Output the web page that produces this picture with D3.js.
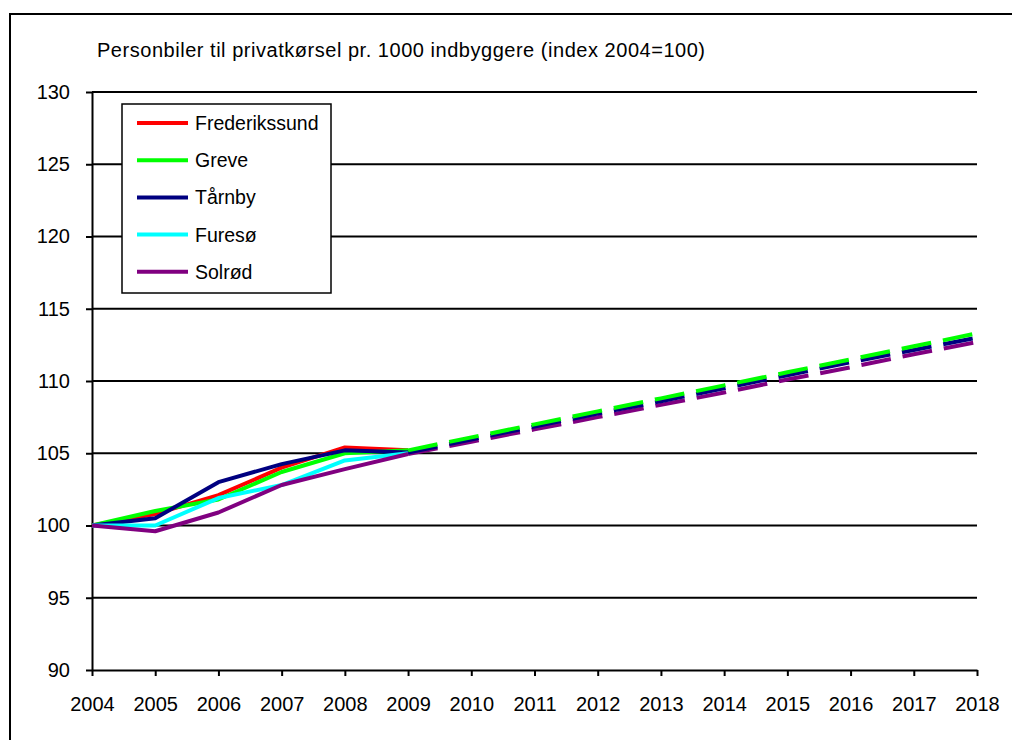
<!DOCTYPE html>
<html>
  <head>
    <meta charset="utf-8">
    <title>Personbiler til privatkørsel</title>
    <style>
      body { margin: 0; background: #fff; }
      svg { font-family: "Liberation Sans", Arial, sans-serif; display: block; }
      .axis path, .axis line { stroke: #000; stroke-width: 2px; }
      .axis text { font-size: 20px; fill: #000; }
      .grid line { stroke: #000; stroke-width: 2px; }
      .line { fill: none; stroke-width: 4px; stroke-linejoin: round; }
      .proj { fill: none; stroke-width: 4px; stroke-dasharray: 30 12; }
    </style>
  </head>
  <body>
    <svg width="1012" height="740"></svg>

    <script src="https://d3js.org/d3.v7.min.js"></script>
    <script>
      // Years and y ticks
      const years = [2004, 2005, 2006, 2007, 2008, 2009, 2010, 2011, 2012, 2013, 2014, 2015, 2016, 2017, 2018];
      const histYears = [2004, 2005, 2006, 2007, 2008, 2009];
      const projYears = [2009, 2010, 2011, 2012, 2013, 2014, 2015, 2016, 2017, 2018];
      const yTicks = [90, 95, 100, 105, 110, 115, 120, 125, 130];

      // Observed index values 2004-2009
      const frederikssund = [100, 100.8, 102.1, 104.0, 105.4, 105.2];
      const greve = [100, 101.0, 101.8, 103.7, 105.0, 105.2];
      const taarnby = [100, 100.5, 103.0, 104.25, 105.2, 105.05];
      const furesoe = [100, 100.0, 101.9, 102.8, 104.5, 105.0];
      const solroed = [100, 99.6, 100.9, 102.8, 103.9, 104.95];

      // Projected values 2009-2018 (dashed)
      const greveProj = [105.2, 106.1, 107.0, 107.9, 108.8, 109.7, 110.6, 111.5, 112.4, 113.3];
      const taarnbyProj = [105.05, 105.95, 106.85, 107.75, 108.6, 109.5, 110.4, 111.3, 112.15, 113.0];
      const solroedProj = [104.95, 105.8, 106.65, 107.5, 108.35, 109.2, 110.1, 110.95, 111.85, 112.7];

      const series = [
        { name: 'Frederikssund', color: '#ff0000', values: frederikssund },
        { name: 'Greve', color: '#00ff00', values: greve },
        { name: 'Tårnby', color: '#000080', values: taarnby },
        { name: 'Furesø', color: '#00ffff', values: furesoe },
        { name: 'Solrød', color: '#800080', values: solroed }
      ];
      const projections = [
        { color: '#800080', values: solroedProj },
        { color: '#000080', values: taarnbyProj },
        { color: '#00ff00', values: greveProj }
      ];

      const svg = d3.select('svg');

      // outer chart border (only top and left visible)
      svg.append('path')
        .attr('d', 'M10,760 V14 H1030')
        .attr('fill', 'none')
        .attr('stroke', '#000')
        .attr('stroke-width', 2);

      const x = d3.scaleLinear().domain([2004, 2018]).range([92, 977]);
      const y = d3.scaleLinear().domain([90, 130]).range([670, 92]);

      // gridlines
      svg.append('g')
        .attr('class', 'grid')
        .selectAll('line')
        .data(yTicks.slice(1))
        .enter()
        .append('line')
        .attr('x1', x(2004))
        .attr('x2', x(2018))
        .attr('y1', d => y(d))
        .attr('y2', d => y(d));

      // axes
      svg.append('g')
        .attr('class', 'axis')
        .attr('transform', `translate(0,${y(90)})`)
        .call(d3.axisBottom(x).tickValues(years).tickFormat(d3.format('d')).tickSize(6).tickSizeOuter(0).tickPadding(21));

      svg.append('g')
        .attr('class', 'axis')
        .attr('transform', `translate(${x(2004)},0)`)
        .call(d3.axisLeft(y).tickValues(yTicks).tickSize(6).tickSizeOuter(0).tickPadding(16));

      // title
      svg.append('text')
        .attr('x', 97)
        .attr('y', 57)
        .attr('font-size', 20)
        .attr('textLength', 608)
        .attr('lengthAdjust', 'spacing')
        .text('Personbiler til privatkørsel pr. 1000 indbyggere (index 2004=100)');

      const line = d3.line()
        .x(d => x(d[0]))
        .y(d => y(d[1]));

      // observed lines
      svg.selectAll('.line')
        .data(series)
        .enter()
        .append('path')
        .attr('class', 'line')
        .attr('stroke', d => d.color)
        .attr('d', d => line(histYears.map((yr, i) => [yr, d.values[i]])));

      // projections
      svg.selectAll('.proj')
        .data(projections)
        .enter()
        .append('path')
        .attr('class', 'proj')
        .attr('stroke', d => d.color)
        .attr('d', d => line(projYears.map((yr, i) => [yr, d.values[i]])));

      // legend
      const legend = svg.append('g');
      legend.append('rect')
        .attr('x', 122)
        .attr('y', 104)
        .attr('width', 209)
        .attr('height', 189)
        .attr('fill', '#fff')
        .attr('stroke', '#000')
        .attr('stroke-width', 1.5);

      const item = legend.selectAll('.item')
        .data(series)
        .enter()
        .append('g')
        .attr('transform', (d, i) => `translate(0,${123 + i * 37.2})`);

      item.append('line')
        .attr('x1', 137)
        .attr('x2', 188)
        .attr('stroke', d => d.color)
        .attr('stroke-width', 4);

      item.append('text')
        .attr('x', 195)
        .attr('y', 7)
        .attr('font-size', 19.5)
        .text(d => d.name);
    </script>
  </body>
</html>
